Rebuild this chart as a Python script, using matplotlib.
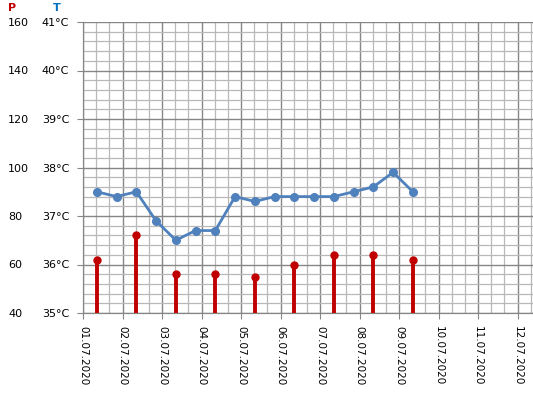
import matplotlib
matplotlib.use('Agg')
import matplotlib.pyplot as plt
from matplotlib.ticker import MultipleLocator

days = ['01.07.2020', '02.07.2020', '03.07.2020', '04.07.2020', '05.07.2020', '06.07.2020',
        '07.07.2020', '08.07.2020', '09.07.2020', '10.07.2020', '11.07.2020', '12.07.2020']

# temperature: morning / evening readings, x in days from 01.07
t_x = [0.35, 0.85, 1.35, 1.85, 2.35, 2.85, 3.35, 3.85, 4.35, 4.85, 5.35, 5.85, 6.35, 6.85, 7.35, 7.85, 8.35]
t_val = [37.5, 37.4, 37.5, 36.9, 36.5, 36.7, 36.7, 37.4, 37.3, 37.4, 37.4, 37.4, 37.4, 37.5, 37.6, 37.9, 37.5]

# pulse: once a day
p_x = [0.35, 1.35, 2.35, 3.35, 4.35, 5.35, 6.35, 7.35, 8.35]
p_val = [62, 72, 56, 56, 55, 60, 64, 64, 62]

t_ticks = [35, 36, 37, 38, 39, 40, 41]
p_ticks = [40, 60, 80, 100, 120, 140, 160]

fig = plt.figure(figsize=(5.33, 3.99), dpi=100)
ax = fig.add_axes([83 / 533, 86 / 399, 450 / 533, 291 / 399])
ax2 = ax.twinx()

ax.set_xlim(0, 450 / 39.5)
ax.set_ylim(35, 41)
ax2.set_ylim(40, 160)

ax.xaxis.set_major_locator(MultipleLocator(1))
ax.xaxis.set_minor_locator(MultipleLocator(1 / 3))
ax.yaxis.set_major_locator(MultipleLocator(1))
ax.yaxis.set_minor_locator(MultipleLocator(0.2))
ax.grid(which='minor', color='#b8b8b8', linewidth=0.9)
ax.grid(which='major', color='#868686', linewidth=1.0)
ax.set_axisbelow(True)

ax.set_xticks(range(len(days)))
ax.set_xticklabels(days, rotation=-90, fontsize=7.5)
ax.tick_params(axis='x', which='major', length=4, color='#868686', pad=5)
ax.tick_params(axis='x', which='minor', length=0)
ax.set_yticks(t_ticks)
ax.set_yticklabels([f'{v}°C' for v in t_ticks], fontsize=8)
ax.tick_params(axis='y', which='major', length=4, color='#868686', pad=6)
ax.tick_params(axis='y', which='minor', length=0)

ax2.yaxis.tick_left()
ax2.set_yticks(p_ticks)
ax2.set_yticklabels([str(v) for v in p_ticks], fontsize=8)
ax2.tick_params(axis='y', length=0, pad=54)
for lab in ax2.get_yticklabels():
    lab.set_horizontalalignment('left')

for a in (ax, ax2):
    for s in ('top', 'right'):
        a.spines[s].set_visible(False)
    a.spines['left'].set_color('#868686')
    a.spines['bottom'].set_color('#868686')

ax.plot(t_x, t_val, '-o', color='#4f81bd', linewidth=2, markersize=5.5, zorder=5)

ax2.vlines(p_x, 40, p_val, color='#c00000', linewidth=2.8, zorder=3)
ax2.plot(p_x, p_val, 'o', color='#c00000', markersize=5, zorder=4)

fig.text(12 / 533, 1 - 8 / 399, 'P', color='#c00000', fontsize=8, fontweight='bold', ha='center', va='center')
fig.text(57 / 533, 1 - 8 / 399, 'T', color='#0070c0', fontsize=8, fontweight='bold', ha='center', va='center')

fig.savefig('out.png', dpi=100)
